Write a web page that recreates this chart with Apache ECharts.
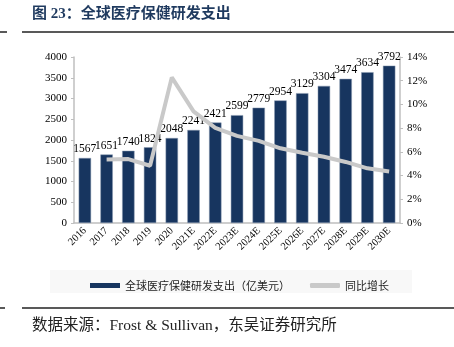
<!DOCTYPE html>
<html><head><meta charset="utf-8">
<script src="https://cdn.jsdelivr.net/npm/echarts@6/dist/echarts.min.js"></script>
<style>html,body{margin:0;padding:0;background:#fff}#c{width:454px;height:347px}</style>
</head><body><div id="c"></div>
<script>
const categories = ['2016','2017','2018','2019','2020','2021E','2022E','2023E','2024E','2025E','2026E','2027E','2028E','2029E','2030E'];
const spending = [1567,1651,1740,1824,2048,2241,2421,2599,2779,2954,3129,3304,3474,3634,3792];
const growth = [null,5.36,5.39,4.83,12.28,9.42,8.03,7.35,6.93,6.30,5.92,5.59,5.15,4.61,4.35];
const leftTicks = [0,500,1000,1500,2000,2500,3000,3500,4000];
const rightTicks = [0,2,4,6,8,10,12,14];
const titleText = '图 23：全球医疗保健研发支出';
const sourceText = '数据来源：Frost & Sullivan，东吴证券研究所';
const barName = '全球医疗保健研发支出（亿美元）';
const lineName = '同比增长';

const serif = '"Liberation Serif","Times New Roman","Noto Sans CJK SC",serif';
const chart = echarts.init(document.getElementById('c'), null, {renderer:'canvas'});
chart.setOption({
  animation:false,
  backgroundColor:'#fff',
  grid:{left:74,right:54,top:57,bottom:124},
  graphic:[
    {type:'text',left:32,top:7,style:{text:titleText,font:'bold 15px "Liberation Serif","Noto Sans CJK SC",serif',fill:'#1f3a5f'}},
    {type:'line',shape:{x1:22,y1:32,x2:454,y2:32},style:{stroke:'#222',lineWidth:1.5}},
    {type:'line',shape:{x1:0,y1:32,x2:7,y2:32},style:{stroke:'#222',lineWidth:1.5}},
    {type:'rect',shape:{x:50,y:270,width:362,height:23},style:{fill:'#f8f8f8'},z:-1},
    {type:'line',shape:{x1:22,y1:308,x2:454,y2:308},style:{stroke:'#222',lineWidth:1.5}},
    {type:'line',shape:{x1:0,y1:308,x2:5,y2:308},style:{stroke:'#222',lineWidth:1.5}},
    {type:'text',left:32,top:318,style:{text:sourceText,font:'15.5px "Liberation Serif","Noto Sans CJK SC",serif',fill:'#222'}}
  ],
  legend:{
    top:275,left:85,itemGap:20,
    textStyle:{fontFamily:'"Noto Sans CJK SC",sans-serif',fontSize:11,color:'#222'},
    data:[
      {name:barName,icon:'rect',itemStyle:{color:'#17355f',borderWidth:0}},
      {name:lineName,icon:'roundRect',itemStyle:{color:'#c9c9c9',borderWidth:0}}
    ],
    itemWidth:30,itemHeight:5
  },
  xAxis:{
    type:'category',data:categories,
    axisLine:{lineStyle:{color:'#bfbfbf',width:1.5}},
    axisTick:{show:false},
    axisLabel:{rotate:45,fontFamily:serif,fontSize:10.5,color:'#000',margin:6,interval:0}
  },
  yAxis:[
    {type:'value',min:0,max:4000,interval:500,
     axisLine:{show:true,lineStyle:{color:'#bfbfbf',width:1.5}},
     axisTick:{show:true,length:3,lineStyle:{color:'#bfbfbf'}},
     splitLine:{show:false},
     axisLabel:{fontFamily:serif,fontSize:11,color:'#000',margin:7,formatter:v=>String(v)}},
    {type:'value',min:0,max:14,interval:2,
     axisLine:{show:true,lineStyle:{color:'#bfbfbf',width:1.5}},
     axisTick:{show:true,length:3,lineStyle:{color:'#bfbfbf'}},
     splitLine:{show:false},
     axisLabel:{fontFamily:serif,fontSize:11,color:'#000',margin:7,formatter:v=>v+'%'}}
  ],
  series:[
    {name:barName,type:'bar',data:spending,barWidth:'57%',
     itemStyle:{color:'#17355f',borderColor:'#8a9ab0',borderWidth:0.5},
     label:{show:true,position:'top',distance:3,fontFamily:serif,fontSize:11.5,color:'#000'}},
    {name:lineName,type:'line',yAxisIndex:1,data:growth,symbol:'none',
     lineStyle:{color:'#c9c9c9',width:4},itemStyle:{color:'#c9c9c9'}}
  ]
});
</script></body></html>
